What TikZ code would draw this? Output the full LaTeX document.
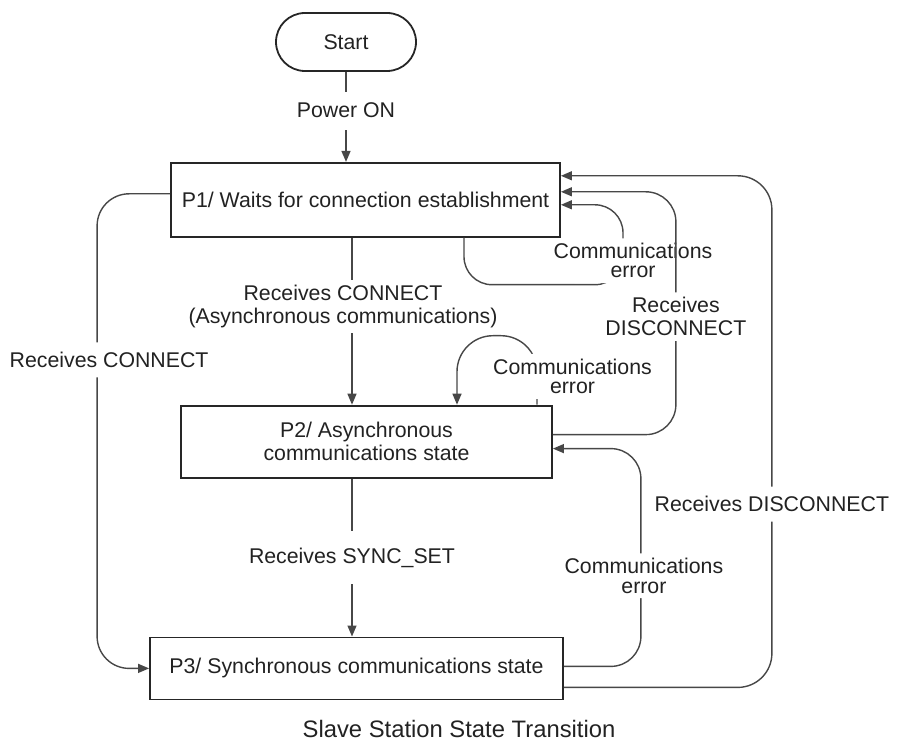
\documentclass[tikz,border=0pt]{standalone}
\usepackage{fontspec}
\setmainfont{Liberation Sans}
\usetikzlibrary{arrows.meta,positioning}
\definecolor{ln}{HTML}{474747}
\definecolor{txt}{HTML}{222222}

\begin{document}
\begin{tikzpicture}[
  node distance=10pt,
  font=\fontsize{10.65pt}{11.5pt}\selectfont,
  box/.style={draw=black!85,line width=0.9pt,align=center,inner sep=0pt,text=txt},
  term/.style={box,rounded corners=14.5pt,minimum width=70pt,minimum height=29pt},
  lbl/.style={fill=white,inner xsep=2pt,inner ysep=2.5pt,align=center,text=txt},
  lbltight/.style={lbl,font=\fontsize{10.65pt}{9.6pt}\selectfont},
  capt/.style={inner sep=0pt,text=txt,font=\fontsize{11.9pt}{14pt}\selectfont},
  ar/.style={-{Triangle[length=5.5pt,width=4.5pt]},ln,line width=0.7pt},
]
\useasboundingbox (0,0) rectangle (450pt,-371.5pt);

\node[term] (start) at (173pt,-21pt) {Start};
\node[box,minimum width=194.5pt,minimum height=37pt,below=45pt of start,xshift=9.75pt] (p1) {P1/ Waits for connection establishment};
\node[box,minimum width=185.5pt,minimum height=36pt,below=83.5pt of p1,xshift=0.5pt] (p2) {P2/ Asynchronous\\communications state};
\node[box,minimum width=206.5pt,minimum height=31pt,below=79pt of p2,xshift=-5pt] (p3) {P3/ Synchronous communications state};
\node[capt,below=10pt of p3,xshift=51.25pt] (cap) {Slave Station State Transition};

% main chain
\draw[ar] (start) -- node[lbl,pos=0.43,minimum height=19pt]{Power ON} (start |- p1.north);
\draw[ar] ([xshift=-6.75pt]p1.south) -- node[lbl,pos=0.41,xshift=-4.5pt]{Receives CONNECT\\(Asynchronous communications)} ([xshift=-6.75pt]p1.south |- p2.north);
\draw[ar] ([xshift=-7.25pt]p2.south) -- node[lbl,pos=0.5,minimum height=26.5pt]{Receives SYNC\_SET} ([xshift=-7.25pt]p2.south |- p3.north);

% side transitions
\draw[ar,rounded corners=16pt] ([yshift=3pt]p1.west) -- ++(-36.5pt,0)
  |- node[lbl,pos=0.175,xshift=6pt,minimum height=17.5pt]{Receives CONNECT} (p3.west);
\draw[ar,rounded corners=14pt] ([xshift=49.25pt]p1.south) -- ++(0,-23.5pt) -- ++(79.5pt,0)
  |- node[lbltight,pos=0.15,xshift=5pt]{Communications\\error} ([yshift=-2.5pt]p1.east);
\draw[ar,rounded corners=15pt] ([yshift=3.5pt]p2.east) -- ++(61.5pt,0)
  |- node[lbl,pos=0.243]{Receives\\DISCONNECT} ([yshift=4pt]p1.east);
\draw[ar,rounded corners=18pt] ([xshift=85.25pt]p2.north) -- node[lbltight,pos=0.41,xshift=17.75pt]{Communications\\error} ++(0,34.5pt)
  -| ([xshift=45.25pt]p2.north);
\draw[ar,rounded corners=15pt] ([yshift=1pt]p3.east) -- ++(38.5pt,0)
  |- node[lbltight,pos=0.208,xshift=1.5pt]{Communications\\error} ([yshift=-3.5pt]p2.east);
\draw[ar,rounded corners=17pt] ([yshift=-9.5pt]p3.east) -- ++(104pt,0)
  |- node[lbl,pos=0.179,minimum height=17.5pt]{Receives DISCONNECT} ([yshift=12pt]p1.east);
\end{tikzpicture}
\end{document}
